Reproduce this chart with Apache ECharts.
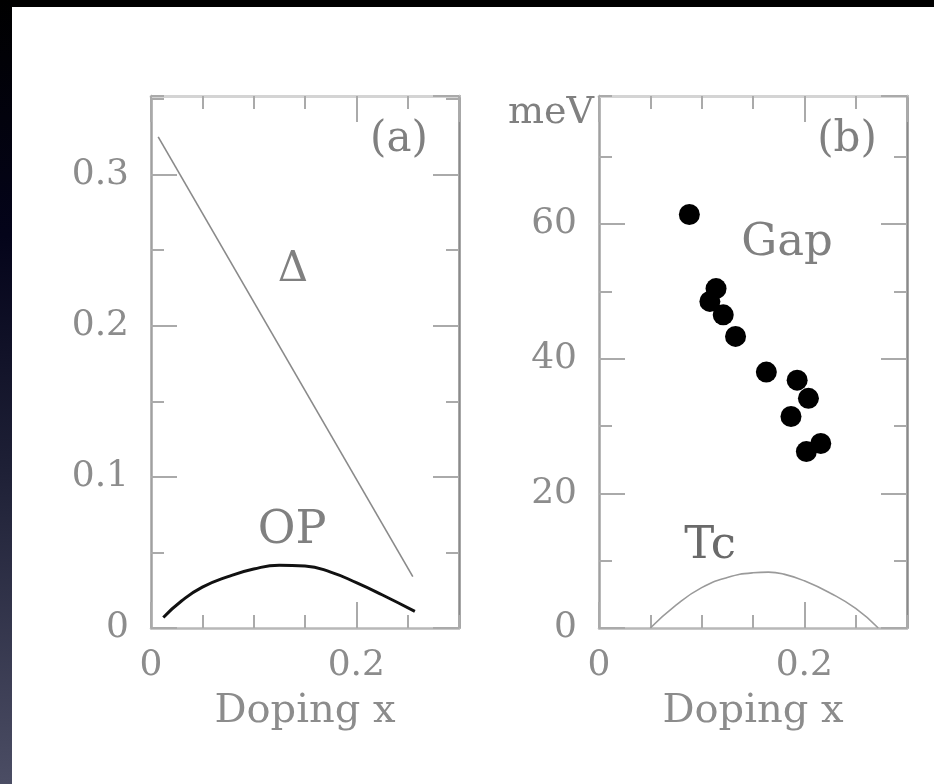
<!DOCTYPE html>
<html>
<head>
<meta charset="utf-8">
<script src="https://cdn.jsdelivr.net/npm/echarts@6/dist/echarts.min.js"></script>
<style>
html,body{margin:0;padding:0;background:#fff;}
#c{width:934px;height:784px;}
</style>
</head>
<body>
<div id="c"></div>
<script>
// Panel (a): model quantities vs doping
var deltaLine = [[0.007, 0.325], [0.255, 0.034]];
var opCurve = [[0.012, 0.007], [0.03, 0.018], [0.05, 0.027], [0.075, 0.034], [0.1, 0.039],
  [0.125, 0.0415], [0.15, 0.041], [0.175, 0.037], [0.2, 0.030], [0.225, 0.022], [0.257, 0.011]];
// Panel (b): measured gap (meV) and Tc
var gapPoints = [[0.088, 61.4], [0.114, 50.4], [0.108, 48.5], [0.121, 46.5], [0.133, 43.3],
  [0.163, 38.0], [0.193, 36.8], [0.204, 34.1], [0.187, 31.4], [0.216, 27.4], [0.202, 26.2]];
var tcCurve = [[0.05, 0], [0.075, 3.4], [0.1, 6.0], [0.125, 7.5], [0.15, 8.2], [0.165, 8.3],
  [0.18, 8.0], [0.2, 7.0], [0.225, 5.2], [0.25, 2.9], [0.272, 0]];

var FONT = 'DejaVu Serif';
var labelColor = '#8c8c8c';
var tickColor = '#aaaaaa';

function tick(len) {
  return {show: true, inside: true, length: len, lineStyle: {color: tickColor, width: 2}};
}
function line(show, color, w) {
  return {show: show, onZero: false, lineStyle: {color: color || '#aaa', width: w || 2.5}};
}
// minor (short-tick) axes carry the frame lines; major (long-tick) axes carry the labels
function xAxes(gMinor, gMajor, max, minorInt, majorInt) {
  var b = {type: 'value', min: 0, max: max, splitLine: {show: false}};
  return [
    Object.assign({}, b, {gridIndex: gMinor, position: 'bottom', interval: minorInt,
      axisLine: line(true, '#b8b8b8', 2.5), axisTick: tick(13), axisLabel: {show: false}}),
    Object.assign({}, b, {gridIndex: gMinor, position: 'top', interval: minorInt,
      axisLine: line(true, '#d4d4d4', 3), axisTick: tick(13), axisLabel: {show: false}}),
    Object.assign({}, b, {gridIndex: gMajor, position: 'bottom', interval: majorInt,
      axisLine: line(false), axisTick: tick(26),
      axisLabel: {show: true, showMaxLabel: false, margin: 20, color: labelColor,
        fontFamily: FONT, fontSize: 36},
      name: 'Doping x', nameLocation: 'middle', nameGap: 64,
      nameTextStyle: {color: labelColor, fontFamily: FONT, fontSize: 40}}),
    Object.assign({}, b, {gridIndex: gMajor, position: 'top', interval: majorInt,
      axisLine: line(false), axisTick: tick(26), axisLabel: {show: false}})
  ];
}
function yAxes(gMinor, gMajor, max, minorInt, majorInt) {
  var b = {type: 'value', min: 0, max: max, splitLine: {show: false}};
  return [
    Object.assign({}, b, {gridIndex: gMinor, position: 'left', interval: minorInt,
      axisLine: line(true, '#a0a0a0', 2.5), axisTick: tick(13), axisLabel: {show: false}}),
    Object.assign({}, b, {gridIndex: gMinor, position: 'right', interval: minorInt,
      axisLine: line(true, '#8a8a8a', 2.5), axisTick: tick(13), axisLabel: {show: false}}),
    Object.assign({}, b, {gridIndex: gMajor, position: 'left', interval: majorInt,
      axisLine: line(false), axisTick: tick(26),
      axisLabel: {show: true, showMaxLabel: false, margin: 22, color: labelColor,
        fontFamily: FONT, fontSize: 36}}),
    Object.assign({}, b, {gridIndex: gMajor, position: 'right', interval: majorInt,
      axisLine: line(false), axisTick: tick(26), axisLabel: {show: false}})
  ];
}

function txt(text, x, y, size, align, color) {
  return {type: 'text', x: x, y: y, silent: true,
    style: {text: text, fill: color || '#808080', font: size + 'px "' + FONT + '"',
      align: align || 'center', verticalAlign: 'middle'}};
}

var rectA = {left: 151, top: 96, width: 308, height: 532, outerBoundsMode: 'none', containLabel: false};
var rectB = {left: 599, top: 96, width: 308, height: 532, outerBoundsMode: 'none', containLabel: false};

var chart = echarts.init(document.getElementById('c'), null, {renderer: 'canvas'});
chart.setOption({
  animation: false,
  backgroundColor: '#ffffff',
  grid: [rectA, rectB, Object.assign({}, rectA), Object.assign({}, rectB)],
  // x indices: 0,1 minor(a) 2,3 major(a) | 4,5 minor(b) 6,7 major(b)
  xAxis: xAxes(0, 2, 0.3, 0.05, 0.2).concat(xAxes(1, 3, 0.3, 0.05, 0.2)),
  yAxis: yAxes(0, 2, 0.352, 0.05, 0.1).concat(yAxes(1, 3, 79, 10, 20)),
  series: [
    {type: 'line', xAxisIndex: 0, yAxisIndex: 0, data: deltaLine, showSymbol: false,
      lineStyle: {color: '#8a8a8a', width: 1.6}},
    {type: 'line', xAxisIndex: 0, yAxisIndex: 0, data: opCurve, showSymbol: false, smooth: true,
      lineStyle: {color: '#111111', width: 3}},
    {type: 'scatter', xAxisIndex: 4, yAxisIndex: 4, data: gapPoints, symbol: 'circle', symbolSize: 21,
      itemStyle: {color: '#000000', opacity: 1}},
    {type: 'line', xAxisIndex: 4, yAxisIndex: 4, data: tcCurve, showSymbol: false, smooth: true,
      lineStyle: {color: '#9a9a9a', width: 1.6}}
  ],
  graphic: [
    {type: 'rect', silent: true, shape: {x: 0, y: 0, width: 934, height: 7}, style: {fill: '#000'}},
    {type: 'rect', silent: true, shape: {x: 0, y: 0, width: 12, height: 784},
      style: {fill: new echarts.graphic.LinearGradient(0, 0, 0, 1, [
        {offset: 0, color: '#000000'}, {offset: 0.3, color: '#04041a'},
        {offset: 0.6, color: '#1e2036'}, {offset: 1, color: '#4b4d64'}])}},
    txt('(a)', 399, 140, 42),
    txt('(b)', 847, 140, 42),
    txt('\u0394', 293, 270, 42),
    txt('OP', 292, 531, 46),
    txt('Gap', 787, 243, 45),
    txt('Tc', 710, 546, 45, 'center', '#6a6a6a'),
    txt('meV', 594, 113, 38, 'right')
  ]
});
</script>
</body>
</html>
